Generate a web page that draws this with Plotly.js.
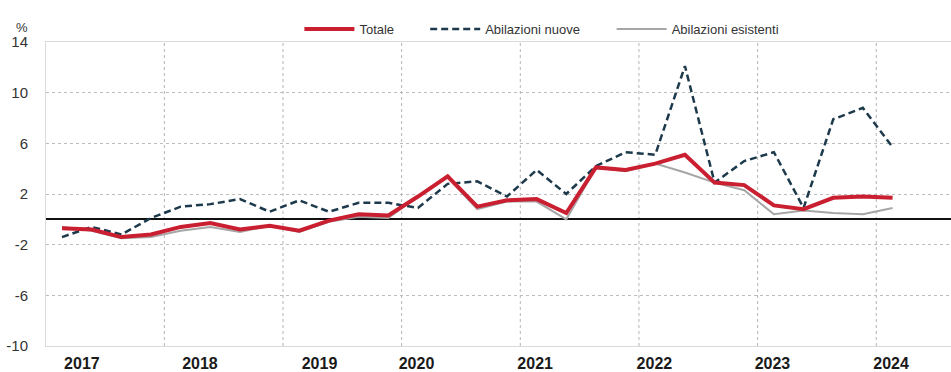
<!DOCTYPE html>
<html>
<head>
<meta charset="utf-8">
<script src="https://cdn.plot.ly/plotly-3.0.1.min.js"></script>
<style>
  html, body { margin: 0; padding: 0; background: #ffffff; }
  #chart { width: 951px; height: 372px; }
</style>
</head>
<body>
<div id="chart"></div>
<script>
// Quarters 2017Q1 .. 2024Q1
var quarters = ['2017Q1','2017Q2','2017Q3','2017Q4','2018Q1','2018Q2','2018Q3','2018Q4',
                '2019Q1','2019Q2','2019Q3','2019Q4','2020Q1','2020Q2','2020Q3','2020Q4',
                '2021Q1','2021Q2','2021Q3','2021Q4','2022Q1','2022Q2','2022Q3','2022Q4',
                '2023Q1','2023Q2','2023Q3','2023Q4','2024Q1'];

var totale    = [-0.7,-0.8,-1.4,-1.2,-0.6,-0.3,-0.8,-0.5,-0.9,-0.1,0.4,0.3,1.8,3.4,1.0,1.5,
                 1.6,0.5,4.1,3.9,4.4,5.1,2.9,2.7,1.1,0.8,1.7,1.8,1.7];
var nuove     = [-1.4,-0.6,-1.2,0.1,1.0,1.2,1.6,0.6,1.5,0.6,1.3,1.3,0.9,2.8,3.0,1.8,
                 3.9,2.0,4.2,5.3,5.1,12.1,2.9,4.6,5.3,0.9,7.9,8.8,5.7];
var esistenti = [-0.6,-0.9,-1.5,-1.4,-0.9,-0.6,-1.0,-0.5,-1.0,-0.2,0.2,0.1,1.8,3.3,0.8,1.4,
                 1.4,0.0,4.1,3.8,4.4,3.7,2.9,2.3,0.4,0.7,0.5,0.4,0.9];

var seriesNames = ['Totale', 'Abilazioni nuove', 'Abilazioni esistenti'];
var yearLabels  = ['2017','2018','2019','2020','2021','2022','2023','2024'];
var yTickVals   = [-10,-6,-2,2,6,10,14];
var yTickText   = ['-10','-6','-2','2','6','10','14'];

// x index for each quarter
var xIdx = quarters.map(function (q, i) { return i; });

// layout positions (in quarter-index units) of year labels and year separators
var yearLabelPos = [0.67, 4.65, 8.68, 11.95, 15.95, 19.97, 23.95, 27.95];
var yearSepPos   = [3.45, 7.45, 11.45, 15.45, 19.45, 23.45, 27.45];

var FONT = 'Liberation Sans, Arial, Helvetica, sans-serif';

var traces = [
  { x: xIdx, y: esistenti, name: seriesNames[2], type: 'scatter', mode: 'lines',
    line: { color: '#a6a6a6', width: 2 }, legend: 'legend3' },
  { x: xIdx, y: nuove, name: seriesNames[1], type: 'scatter', mode: 'lines',
    line: { color: '#1d3a4c', width: 2.5, dash: '7px,4px' }, legend: 'legend2' },
  { x: xIdx, y: totale, name: seriesNames[0], type: 'scatter', mode: 'lines',
    line: { color: '#c91f30', width: 4 }, legend: 'legend' }
];

var shapes = yearSepPos.map(function (p) {
  return { type: 'line', xref: 'x', yref: 'paper', x0: p, x1: p, y0: 0, y1: 1,
           line: { color: '#b4b4b4', width: 1, dash: 'dot' }, layer: 'below' };
});

var legendBase = { orientation: 'h', yanchor: 'middle', xanchor: 'left', y: 1.043,
                   bgcolor: 'rgba(0,0,0,0)', borderwidth: 0, itemwidth: 50,
                   font: { family: FONT, size: 13, color: '#333333' } };
function leg(x) { var o = JSON.parse(JSON.stringify(legendBase)); o.x = x; return o; }

var layout = {
  width: 951, height: 372,
  margin: { l: 46, r: 0, t: 42, b: 26, pad: 0 },
  paper_bgcolor: '#ffffff', plot_bgcolor: '#ffffff',
  font: { family: FONT, color: '#222222' },
  showlegend: true,
  legend: leg(0.280),
  legend2: leg(0.419),
  legend3: leg(0.625),
  xaxis: {
    range: [-0.54, 29.97],
    tickmode: 'array', tickvals: yearLabelPos, ticktext: yearLabels,
    showgrid: false, zeroline: false,
    ticks: 'outside', ticklen: 3, tickcolor: 'rgba(0,0,0,0)',
    showline: true, linecolor: '#dadada', linewidth: 1, mirror: true,
    tickfont: { family: FONT, size: 16, color: '#1a1a1a', weight: 'bold' },
    fixedrange: true
  },
  yaxis: {
    range: [-10, 14],
    tickmode: 'array', tickvals: yTickVals, ticktext: yTickText,
    showgrid: true, gridcolor: '#bdbdbd', griddash: 'dot', gridwidth: 1,
    zeroline: true, zerolinecolor: '#111111', zerolinewidth: 2,
    showline: true, linecolor: '#dadada', linewidth: 1,
    ticks: 'outside', ticklen: 14, tickcolor: 'rgba(0,0,0,0)',
    tickfont: { family: FONT, size: 15, color: '#333333' },
    fixedrange: true
  },
  shapes: shapes,
  annotations: [
    { text: '%', xref: 'paper', yref: 'paper', x: -0.026, y: 1.049, xanchor: 'center', yanchor: 'middle',
      showarrow: false, font: { family: FONT, size: 13, color: '#333333' } }
  ]
};

Plotly.newPlot('chart', traces, layout, { displayModeBar: false, staticPlot: true });
</script>
</body>
</html>
